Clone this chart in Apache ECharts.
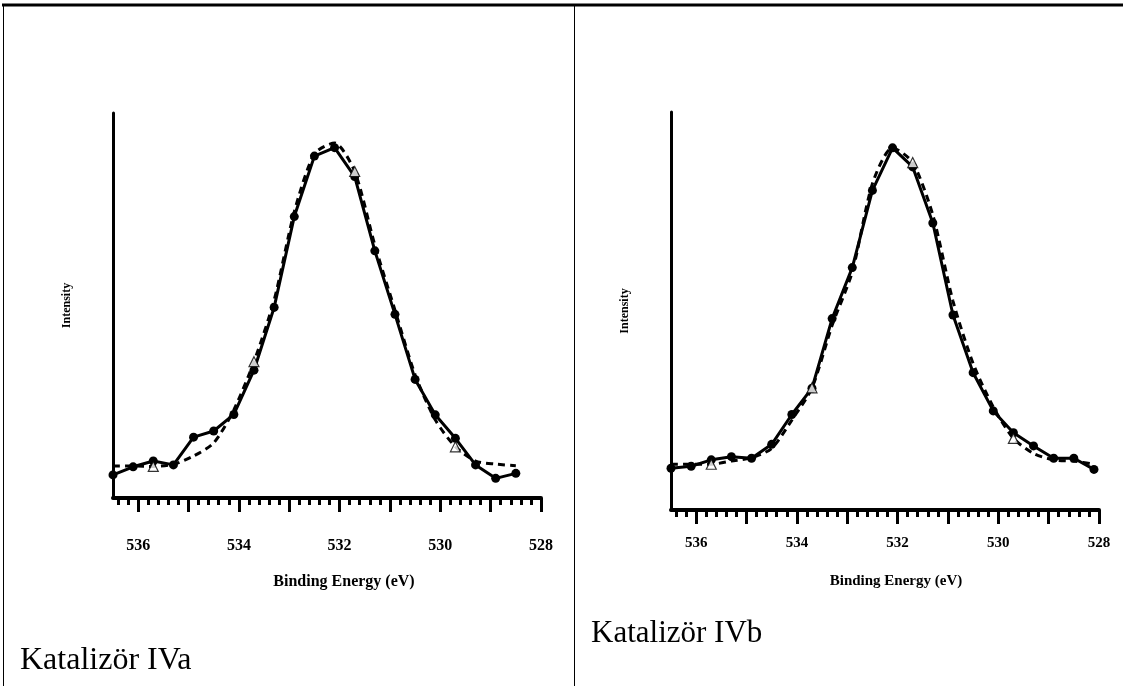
<!DOCTYPE html>
<html>
<head>
<meta charset="utf-8">
<script src="https://cdn.jsdelivr.net/npm/echarts@6/dist/echarts.min.js"></script>
<style>
html,body{margin:0;padding:0;background:#fff;}
#chart{width:1123px;height:686px;}
</style>
</head>
<body>
<div id="chart"></div>
<script>
// Binding energies (eV)
const energyA = [536.5,536.1,535.7,535.3,534.9,534.5,534.1,533.7,533.3,532.9,532.5,532.1,531.7,531.3,530.9,530.5,530.1,529.7,529.3,528.9,528.5];
const energyB = [536.5,536.1,535.7,535.3,534.9,534.5,534.1,533.7,533.3,532.9,532.5,532.1,531.7,531.3,530.9,530.5,530.1,529.7,529.3,528.9,528.5,528.1];
// Measured intensity (arbitrary units)
const measuredA = [6.0,8.1,9.6,8.6,15.8,17.4,21.7,33.2,49.5,73.1,88.8,91.0,83.5,64.2,47.7,30.8,21.6,15.5,8.6,5.1,6.4];
const measuredB = [10.5,11.0,12.6,13.4,13.0,16.5,24.0,30.6,48.1,60.9,80.3,91.0,86.2,72.1,49.0,34.5,24.9,19.4,16.1,13.0,13.0,10.2];
// Fitted intensity (arbitrary units)
const fitA = [8.3,8.3,8.2,8.75,10.9,14.3,22.9,35.4,51.4,74.3,89.4,92.2,84.8,65.7,48.8,32.0,20.3,13.3,9.6,8.8,8.4];
const fitB = [11.5,11.5,11.5,12.3,13.1,15.5,22.6,30.7,46.4,59.8,82.0,91.0,87.3,74.1,52.5,36.8,25.9,18.0,14.2,12.6,12.3,11.5];
// Indices of fit points drawn with open triangles
const triangleIdx = [2,7,12,17];
// Axis ticks and labels
const majorTicks = [528,529,530,531,532,533,534,535,536];
const minorTicks = [528.2,528.4,528.6,528.8,529.2,529.4,529.6,529.8,530.2,530.4,530.6,530.8,531.2,531.4,531.6,531.8,532.2,532.4,532.6,532.8,533.2,533.4,533.6,533.8,534.2,534.4,534.6,534.8,535.2,535.4,535.6,535.8,536.2,536.4];
const tickLabels = [528,530,532,534,536];
const captions = ['Katalizör IVa','Katalizör IVb'];
const xTitle = 'Binding Energy (eV)';
const yTitle = 'Intensity';

const FONT = '"Liberation Serif","Times New Roman",serif';
const grids = [
  {left:113, top:113, width:428, height:385},
  {left:671, top:112, width:428, height:398}
];
const labelMargin = [40, 26];
const labelSize = [16, 15];
const nameGapX = [76, 64];
const nameSize = [16, 15];
const namePad = [[0,0,0,34],[0,0,0,22]];

function pairs(xs, ys){ return xs.map((x,i)=>[x, ys[i]]); }

const xAxis = [], yAxis = [], series = [];
[[energyA,measuredA,fitA],[energyB,measuredB,fitB]].forEach((d,g)=>{
  xAxis.push({
    gridIndex:g, type:'value', min:528, max:536.5, inverse:true,
    axisLine:{show:true, onZero:false, lineStyle:{color:'#000', width:4}},
    axisTick:{show:true, customValues:majorTicks, length:14, lineStyle:{color:'#000', width:3}},
    axisLabel:{show:true, customValues:tickLabels, margin:labelMargin[g], color:'#000',
      fontFamily:FONT, fontWeight:'bold', fontSize:labelSize[g]},
    splitLine:{show:false},
    name:xTitle, nameLocation:'middle', nameGap:nameGapX[g],
    nameTextStyle:{color:'#000', fontFamily:FONT, fontWeight:'bold', fontSize:nameSize[g], padding:namePad[g]}
  });
  xAxis.push({
    gridIndex:g, type:'value', min:528, max:536.5, inverse:true, position:'bottom',
    axisLine:{show:false, onZero:false},
    axisTick:{show:true, customValues:minorTicks, length:7, lineStyle:{color:'#000', width:3}},
    axisLabel:{show:false}, splitLine:{show:false}
  });
  yAxis.push({
    gridIndex:g, type:'value', min:0, max:100,
    axisLine:{show:true, lineStyle:{color:'#000', width:3}},
    axisTick:{show:false}, axisLabel:{show:false}, splitLine:{show:false},
    name:yTitle, nameLocation:'middle', nameGap:40,
    nameTextStyle:{color:'#000', fontFamily:FONT, fontWeight:'bold', fontSize:12}
  });
  const xi = g*2;
  series.push({
    type:'line', xAxisIndex:xi, yAxisIndex:g, data:pairs(d[0], d[2]),
    smooth:0.25, symbol:'none',
    lineStyle:{color:'#000', width:3, type:[7,5]}, z:2
  });
  series.push({
    type:'line', xAxisIndex:xi, yAxisIndex:g, data:pairs(d[0], d[1]),
    symbol:'circle', symbolSize:9, showAllSymbol:true,
    itemStyle:{color:'#000'}, lineStyle:{color:'#000', width:3}, z:3
  });
  series.push({
    type:'scatter', xAxisIndex:xi, yAxisIndex:g,
    data:triangleIdx.map(i=>[d[0][i], d[2][i]]),
    symbol:'triangle', symbolSize:10,
    itemStyle:{color:'#fff', borderColor:'#000', borderWidth:1.2}, z:4
  });
});

const chart = echarts.init(document.getElementById('chart'), null, {renderer:'canvas'});
chart.setOption({
  backgroundColor:'#fff',
  animation:false,
  grid:grids,
  xAxis:xAxis, yAxis:yAxis, series:series,
  title:[
    {text:captions[0], left:15, top:640, textStyle:{color:'#000', fontFamily:FONT, fontWeight:'normal', fontSize:32}},
    {text:captions[1], left:586, top:613, textStyle:{color:'#000', fontFamily:FONT, fontWeight:'normal', fontSize:31}}
  ],
  graphic:[
    {type:'line', shape:{x1:2, y1:5, x2:1123, y2:5}, style:{stroke:'#000', lineWidth:3}},
    {type:'line', shape:{x1:3.5, y1:4, x2:3.5, y2:686}, style:{stroke:'#000', lineWidth:1}},
    {type:'line', shape:{x1:574.5, y1:4, x2:574.5, y2:686}, style:{stroke:'#000', lineWidth:1}}
  ]
});
</script>
</body>
</html>
